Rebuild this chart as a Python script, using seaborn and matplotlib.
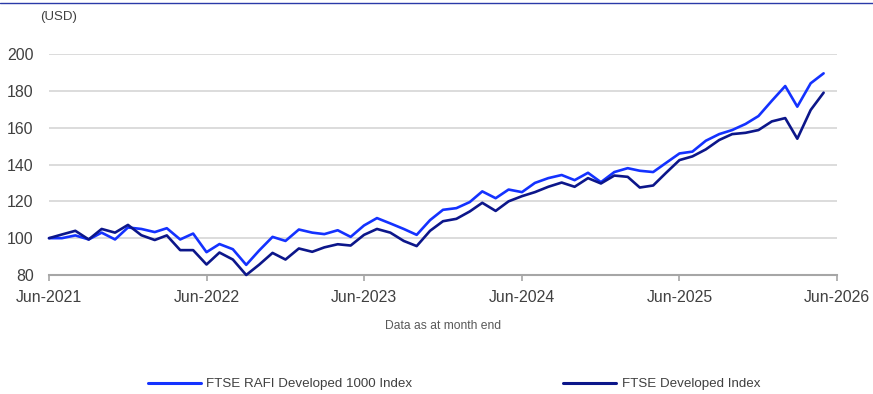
import numpy as np
import pandas as pd
import matplotlib
matplotlib.use("Agg")
import matplotlib.pyplot as plt
import seaborn as sns
from matplotlib.lines import Line2D

# monthly index levels, rebased to 100 at Jun-2021
months = pd.date_range("2021-06-01", periods=60, freq="MS")

rafi = [100, 100, 101.5, 99.3, 103, 99.3, 105.8, 105, 103.3, 105.4,
        99.3, 102.5, 92.4, 96.8, 94, 85.5, 93.3, 100.7, 98.5, 104.7,
        103, 102.2, 104.3, 100.7, 106.9, 110.9, 108, 105, 101.8, 109.8,
        115.4, 116.3, 119.6, 125.4, 121.7, 126.4, 125, 130, 132.6, 134.3,
        131.5, 135.5, 130.4, 135.9, 138, 136.6, 135.9, 140.9, 146, 147,
        152.9, 156.5, 158.7, 162, 166.3, 174.6, 182.6, 171.4, 184.1, 189.5]

developed = [100, 102, 104, 99.3, 105, 103, 107.2, 101.6, 99, 101.5,
             93.5, 93.5, 85.7, 92.2, 88.4, 80, 85.6, 92, 88.4, 94.4,
             92.6, 95, 96.7, 96, 101.8, 105, 103, 98.5, 95.7, 104,
             109.2, 110.5, 114.5, 119.2, 114.8, 120, 122.8, 125, 127.9, 130.2,
             127.9, 132.6, 129.7, 134, 133.3, 127.5, 128.6, 135.5, 142.4, 144.4,
             148.2, 153.3, 156.5, 157.2, 158.7, 163.4, 165.2, 154, 169.6, 179]

series_names = ["FTSE RAFI Developed 1000 Index", "FTSE Developed Index"]
colors = ["#1432ff", "#0c168a"]

tick_years = [2021, 2022, 2023, 2024, 2025, 2026]
y_ticks = [80, 100, 120, 140, 160, 180, 200]

sns.set_style("white")
plt.rcParams["font.family"] = ["Liberation Sans", "DejaVu Sans"]

fig = plt.figure(figsize=(8.73, 3.94), dpi=100)
ax = fig.add_axes([49 / 873, 1 - 275 / 394, 788 / 873, 221 / 394])

df = pd.DataFrame({
    "month": list(months) * 2,
    "value": rafi + developed,
    "series": [series_names[0]] * len(rafi) + [series_names[1]] * len(developed),
})
sns.lineplot(data=df, x="month", y="value", hue="series", hue_order=series_names,
             palette=colors, linewidth=1.9, ax=ax, legend=False)
for ln in ax.get_lines():
    ln.set_clip_on(False)
    ln.set_zorder(3)

ax.set_xlim(pd.Timestamp("2021-06-01"), pd.Timestamp("2026-06-01"))
ax.set_ylim(80, 200)
ax.set_yticks(y_ticks)
ax.set_xticks([pd.Timestamp(f"{y}-06-01") for y in tick_years])
ax.set_xticklabels([f"Jun-{y}" for y in tick_years])
ax.set_xlabel("")
ax.set_ylabel("")

ax.grid(axis="y", color="#d9d9d9", linewidth=1.3)
ax.grid(axis="x", visible=False)
for s in ["left", "right", "top"]:
    ax.spines[s].set_visible(False)
ax.spines["bottom"].set_color("#a6a6a6")
ax.spines["bottom"].set_linewidth(1.5)
ax.spines["bottom"].set_zorder(2)

ax.tick_params(axis="y", length=0, pad=11, labelsize=11.4, labelcolor="#404040")
ax.tick_params(axis="x", direction="out", length=4.5, width=1.2, color="#a6a6a6",
               pad=6, labelsize=11.4, labelcolor="#404040", bottom=True)

fig.text(40 / 873, 1 - 17 / 394, "(USD)", fontsize=9.5, color="#404040",
         ha="left", va="center")
fig.text(443 / 873, 1 - 326 / 394, "Data as at month end", fontsize=8.7,
         color="#595959", ha="center", va="center")

handles = [Line2D([], [], color=c, linewidth=2.2) for c in colors]
fig.legend(handles, series_names, loc="center", bbox_to_anchor=(454 / 873, 1 - 384 / 394),
           ncol=2, frameon=False, fontsize=9.6, handlelength=4.0, handletextpad=0.4,
           columnspacing=11.3, labelcolor="#404040")

# thin rule along the top edge
fig.add_artist(Line2D([0, 1], [1 - 3 / 394, 1 - 3 / 394], transform=fig.transFigure,
                      color="#2a3aa8", linewidth=1.0))

fig.savefig("out.png", dpi=100)
